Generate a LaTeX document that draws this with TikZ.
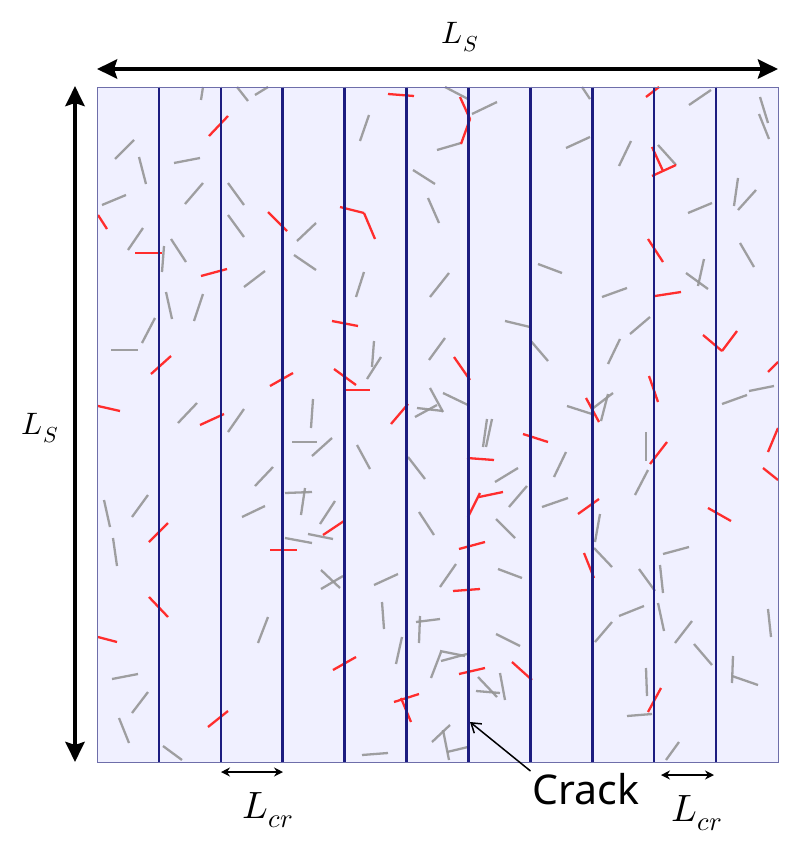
\documentclass[tikz,border=0pt]{standalone}
\usepackage{unicode-math}
\newfontfamily\crackfont{Noto Sans}
\usetikzlibrary{arrows.meta}
\definecolor{panel}{RGB}{240,240,255}
\definecolor{paneledge}{RGB}{110,110,170}
\definecolor{crackcol}{RGB}{28,28,128}
\definecolor{fibgray}{RGB}{150,150,150}
\definecolor{fibred}{RGB}{255,45,45}
\begin{document}
\begin{tikzpicture}[x=1pt,y=-1pt,
  fib/.style={line width=2.3pt, draw=fibgray, opacity=0.9},
  rfib/.style={line width=2.3pt, draw=fibred},
  crackline/.style={line width=2.6pt, draw=crackcol},
  bigarrow/.style={line width=4.5pt, {Stealth[length=20pt,width=19pt,inset=3pt]}-{Stealth[length=20pt,width=19pt,inset=3pt]}},
  smallarrow/.style={line width=1.4pt, {Stealth[length=9pt,width=9pt]}-{Stealth[length=9pt,width=9pt]}},
  mathlabel/.style={inner sep=0pt, font=\fontsize{31}{36}\selectfont},
  crlabel/.style={inner sep=0pt, font=\fontsize{38}{44}\selectfont},
]
\useasboundingbox (0,0) rectangle (795,843);
\node[draw=paneledge, fill=panel, line width=1.2pt, minimum width=681pt, minimum height=675pt, anchor=north west, inner sep=0pt] (sq) at (97,86.5) {};

% gray fibres
\foreach \a/\b/\c/\d in {
201/100/203/87, 237/87/248/101, 255/95/268/87, 360/141/369/115, 115/159/134/140,
139/157/146/184, 174/163/200/158, 102/205/126/195, 185/204/203/183, 228/183/244/205,
228/215/244/237, 128/250/143/228, 162/272/164/246, 171/239/186/262, 297/241/316/223,
294/255/316/270, 244/287/265/271, 166/292/172/319, 194/321/203/294, 142/343/155/318,
111/350/138/350, 356/297/364/272, 413/170/435/184, 428/198/439/223, 430/297/449/273,
429/360/445/338, 374/341/372/367, 367/379/381/357, 178/423/197/403, 228/432/244/409,
311/428/313/399, 430/388/443/412, 415/417/437/405, 417/408/443/411,
445/87/468/99, 472/114/497/102, 437/150/461/143, 566/148/590/137, 582/87/590/99,
619/166/631/141, 658/145/676/165, 689/105/711/90, 760/97/768/123, 759/114/769/139,
688/213/712/203, 734/206/738/178, 738/210/756/190, 740/243/754/267, 538/264/562/273,
602/297/627/288, 686/273/708/289, 698/286/704/259, 505/321/530/327, 530/340/548/361,
630/334/650/317, 608/364/620/339, 443/393/468/405, 567/406/592/414, 601/421/608/394,
592/409/613/393, 722/404/747/395, 749/391/774/386, 483/447/487/419, 486/447/492/419,
292/442/317/442, 312/456/332/438, 357/445/370/469, 255/486/273/467, 408/457/425/479,
285/493/312/492, 305/488/301/515, 320/524/335/501, 242/517/265/506, 104/500/110/527,
132/517/148/495, 113/538/117/566, 285/538/312/543, 308/534/333/539, 419/512/434/535,
321/570/340/588, 321/589/343/576, 374/585/398/574, 382/602/384/629, 258/643/268/617,
416/622/440/619, 420/616/419/643, 396/664/402/637, 431/678/441/652, 112/679/138/674,
132/713/148/692, 119/718/129/743, 163/746/182/760, 362/755/388/753,
495/482/518/468, 509/507/527/486, 554/477/566/452, 542/507/568/498, 496/519/515/538,
498/569/522/578, 440/587/456/564, 496/634/520/646, 441/661/467/654, 440/651/465/656,
478/677/497/697, 476/691/500/693, 500/673/505/700, 432/742/450/725, 443/730/449/760,
447/752/468/747, 595/542/600/514, 594/548/612/567, 635/495/648/470, 646/432/646/461,
663/554/689/547, 639/569/655/591, 660/565/663/593, 619/616/644/606, 595/642/612/622,
658/603/664/631, 675/643/692/621, 694/644/712/665, 646/668/647/696, 627/716/652/714,
666/760/679/742, 733/656/732/683, 732/676/758/685, 768/609/771/637}
  \draw[fib] (\a,\b) -- (\c,\d);

% red (bridging) fibres
\foreach \a/\b/\c/\d in {
388/94/414/96, 209/136/228/116, 268/212/287/231, 340/207/364/213, 364/213/375/239,
98/215/107/229, 135/253/162/253, 201/276/227/269, 332/321/358/326, 151/374/171/356,
270/386/293/373, 334/369/356/385, 344/390/370/390, 98/406/120/411, 200/425/224/414,
391/424/408/404, 460/97/470/119, 470/119/461/144, 646/97/659/87, 652/147/663/171,
652/176/676/165, 648/239/663/262, 655/296/681/292, 703/335/722/351, 722/351/737/331,
454/357/470/380, 768/372/778/362, 586/398/599/422, 649/376/658/402, 149/542/168/523,
270/550/297/550, 323/535/344/521, 149/597/168/617, 98/637/117/642, 333/670/356/657,
208/727/228/711, 394/702/419/694, 401/698/411/722, 523/434/548/442, 467/458/494/460,
479/497/503/492, 468/517/480/493, 578/514/599/499, 584/553/594/578, 650/464/667/442,
768/452/778/428, 763/468/778/480, 708/508/731/521, 459/549/485/542, 453/591/480/589,
459/674/485/668, 512/662/532/680, 648/712/661/688}
  \draw[rfib] (\a,\b) -- (\c,\d);

% cracks
\foreach \i in {1,...,10}
  \draw[crackline] ({97+61.9*\i},86.5) -- ({97+61.9*\i},761.5);
\node[draw=paneledge, line width=1.2pt, minimum width=681pt, minimum height=675pt, anchor=north west, inner sep=0pt] (frame) at (97,86.5) {};

% dimension arrows
\coordinate (topL) at (97,69);
\coordinate (topR) at (778,69);
\draw[bigarrow] (topL) -- (topR);
\coordinate (lefT) at (75,86);
\coordinate (lefB) at (75,762);
\draw[bigarrow] (lefT) -- (lefB);
\node[mathlabel] (lstop) at (460,37) {$L_S$};
\node[mathlabel] (lsleft) at (40,428) {$L_S$};

\coordinate (c1a) at (221,772);
\coordinate (c1b) at (283,772);
\draw[smallarrow] (c1a) -- (c1b);
\coordinate (c2a) at (661,775);
\coordinate (c2b) at (714,775);
\draw[smallarrow] (c2a) -- (c2b);
\node[crlabel] (lcr1) at (268,810) {$L_{cr}$};
\node[crlabel] (lcr2) at (697,813) {$L_{cr}$};

% crack label
\node[inner sep=2pt, font=\crackfont\fontsize{41}{48}\selectfont] (crack) at (586,789) {Crack};
\coordinate (ctip) at (470,722);
\draw[line width=1.5pt, -{Straight Barb[length=9pt,width=12pt]}] (crack.north west) -- (ctip);
\end{tikzpicture}
\end{document}
